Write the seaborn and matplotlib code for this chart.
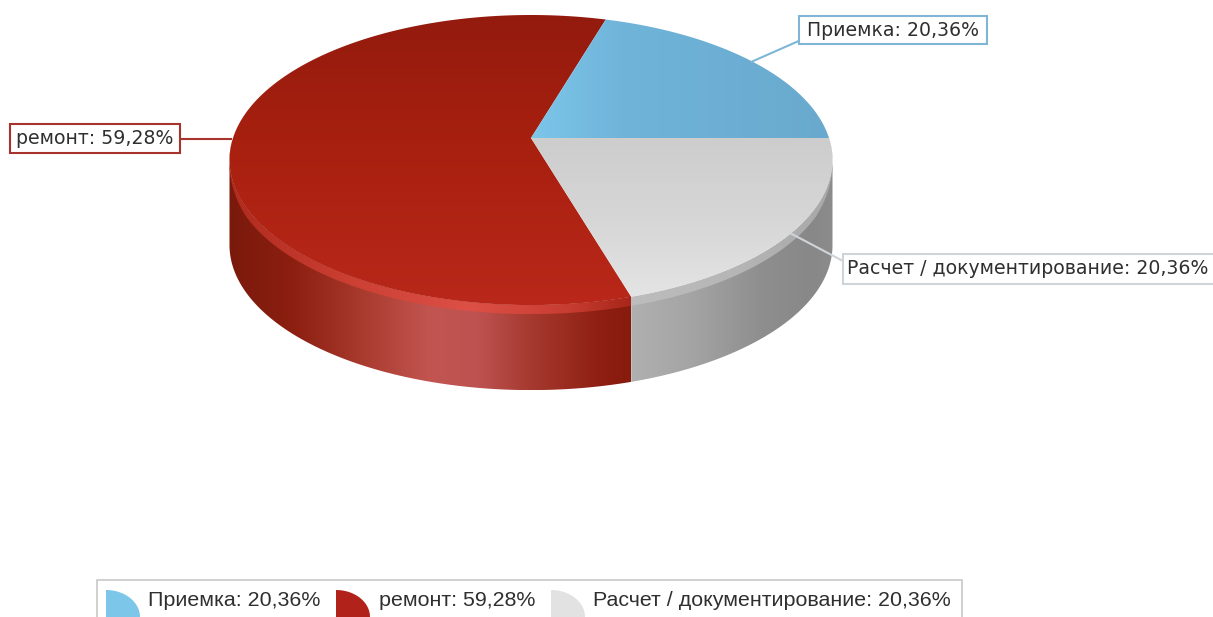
import numpy as np
import matplotlib
matplotlib.use("Agg")
import matplotlib.pyplot as plt
from matplotlib.path import Path
from matplotlib.patches import PathPatch, Rectangle
from matplotlib.colors import LinearSegmentedColormap
import seaborn as sns

# Series
categories = ["Приемка", "ремонт", "Расчет / документирование"]
shares = [20.36, 59.28, 20.36]

# Face colours per slice
blue_face = ["#7cc6ea", "#70b4da", "#69a9ce"]
red_face = ["#931b0e", "#a8200f", "#b9281a"]
grey_face = ["#cdcdcd", "#d6d6d6", "#e4e4e4"]
label_edges = ["#7fb6d6", "#a8322c", "#cfd4d8"]
legend_swatches = ["#7cc6ea", "#b0221a", "#e2e2e2"]

sns.set_style("white")
plt.rcParams["font.family"] = ["DejaVu Sans"]

W, H = 1213, 617
fig = plt.figure(figsize=(W / 100, H / 100), dpi=100)
ax = fig.add_axes([0, 0, 1, 1])
ax.set_xlim(0, W)
ax.set_ylim(H, 0)
ax.set_aspect("equal")
ax.axis("off")
sns.despine(ax=ax, left=True, bottom=True)

# Disc seen in perspective: far edge foreshortened, near edge enlarged
CX, CY, RX, RY, PERSP = 531.0, 138.0, 298.0, 141.7, 0.152
DEPTH = 85.0
BEVEL = 9.0
# Angle at which the projected rim is widest, where the wall's silhouette starts
TANGENT = np.degrees(np.arcsin(PERSP))


def project(deg):
    t = np.radians(deg)
    u, v = np.cos(t), np.sin(t)
    w = 1 + PERSP * v
    return CX + RX * u / w, CY - RY * v / w


def rim(a0, a1, n=240):
    return project(np.linspace(a0, a1, n))


def gradient_fill(xs, ys, colours, vertical=False, z=2, stops=None):
    """Fill a closed outline with a linear colour ramp."""
    verts = np.column_stack([xs, ys])
    path = Path(np.vstack([verts, verts[0]]), closed=True)
    x0, x1, y0, y1 = xs.min(), xs.max(), ys.min(), ys.max()
    ramp = np.linspace(0, 1, 256)
    grid = ramp[:, None] if vertical else ramp[None, :]
    seq = list(zip(stops, colours)) if stops is not None else colours
    cmap = LinearSegmentedColormap.from_list("fill", seq)
    im = ax.imshow(grid, cmap=cmap, vmin=0, vmax=1, extent=(x0, x1, y1, y0),
                   aspect="auto", origin="upper", zorder=z, interpolation="bilinear")
    clip = PathPatch(path, transform=ax.transData, fc="none", ec="none")
    ax.add_patch(clip)
    im.set_clip_path(clip)
    ax.set_xlim(0, W)
    ax.set_ylim(H, 0)


edges = np.concatenate([[0], np.cumsum(shares) / 100 * 360])
(a_blue0, a_blue1) = edges[0], edges[1]
(a_red0, a_red1) = edges[1], edges[2]
(a_grey0, a_grey1) = edges[2], edges[3]


def side(a0, a1, colours, stops, z=2):
    x, y = rim(a0, a1)
    xs = np.concatenate([x, x[::-1]])
    ys = np.concatenate([y, (y + DEPTH)[::-1]])
    gradient_fill(xs, ys, colours, z=z, stops=stops)


def bevel(a0, a1, colours, stops, z=3):
    x, y = rim(a0, a1)
    t = np.radians(np.linspace(a0, a1, x.size))
    lift = BEVEL * np.clip(-np.sin(t) * 2.2, 0, 1)
    xs = np.concatenate([x, x[::-1]])
    ys = np.concatenate([y, (y + lift)[::-1]])
    gradient_fill(xs, ys, colours, z=z, stops=stops)


def face(a0, a1, colours, stops=None, vertical=True, z=4):
    x, y = rim(a0, a1)
    xs = np.concatenate([[CX], x])
    ys = np.concatenate([[CY], y])
    gradient_fill(xs, ys, colours, vertical=vertical, z=z, stops=stops)


# Outer wall of the visible front half
side(180 + TANGENT, a_red1,
     ["#7a1a0c", "#8c1f10", "#a83a2e", "#c25550", "#bd5250", "#a63a30", "#8f1f12", "#871b0e"],
     [0, .16, .33, .50, .62, .75, .92, 1])
side(a_grey0, 360 - TANGENT, ["#b0b0b0", "#a4a4a4", "#8e8e8e", "#888888", "#8c8c8c"],
     [0, .3, .65, .9, 1])

# Light bevel where the wall meets the top
bevel(180, a_red1, ["#b02a1e", "#cc3f33", "#dd5046", "#c73c30", "#a8261a"], [0, .3, .6, .85, 1])
bevel(a_grey0, 360, ["#bdbdbd", "#b6b6b6", "#a8a8a8"], [0, .5, 1])

# Top faces
face(a_red0, a_red1, red_face, [0, .45, 1])
face(a_grey0, a_grey1, grey_face, [0, .5, 1])
face(a_blue0, a_blue1, blue_face, [0, .3, 1], vertical=False)


def pct(value):
    return f"{value:.2f}".replace(".", ",") + "%"


# Callouts joined to their slices by leader lines
callouts = [
    (0, (799, 16, 188, 28), [(801, 40), (751, 62)], 893),
    (1, (10, 124, 170, 29), [(180, 139), (232, 139)], 95),
    (2, (843, 254, 372, 30), [(843, 261), (790, 233)], 1028),
]
for idx, (bx, by, bw, bh), leader, tx in callouts:
    line_col = label_edges[idx]
    ax.plot(*zip(*leader), color=line_col, lw=1.5, zorder=5, solid_capstyle="butt")
    ax.add_patch(Rectangle((bx, by), bw, bh, fc="white", ec=line_col, lw=1.5, zorder=6))
    ax.text(tx, by + bh / 2, f"{categories[idx]}: {pct(shares[idx])}", ha="center",
            va="center", fontsize=13.6, color="#2f2f2f", zorder=7)

# Legend strip along the lower edge
ax.add_patch(Rectangle((97, 580), 865, 45, fc="white", ec="#c8c8c8", lw=1.2, zorder=6))
swatch_x = [106, 336, 551]
text_x = [148, 379, 593]
theta = np.radians(np.linspace(0, 90, 40))
for i, cat in enumerate(categories):
    sx = swatch_x[i] + 34 * np.cos(theta)
    sy = 617 - 27 * np.sin(theta)
    ax.fill(np.concatenate([[swatch_x[i]], sx]), np.concatenate([[617], sy]),
            color=legend_swatches[i], lw=0, zorder=7)
    ax.text(text_x[i], 601, f"{cat}: {pct(shares[i])}", ha="left", va="center",
            fontsize=15.4, family="Liberation Sans", color="#2f2f2f", zorder=7)

fig.savefig("out.png", dpi=100, facecolor="white")
